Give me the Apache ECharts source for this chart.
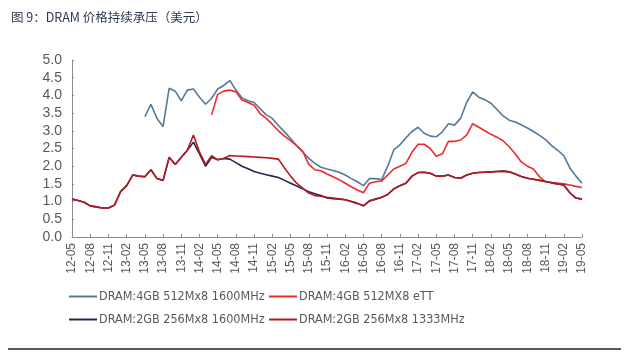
<!DOCTYPE html>
<html>
<head>
<meta charset="utf-8">
<script src="https://cdn.jsdelivr.net/npm/echarts@6/dist/echarts.min.js"></script>
<style>
  html, body { margin: 0; padding: 0; background: #fff; }
  #chart { width: 629px; height: 354px; }
</style>
</head>
<body>
<div id="chart"></div>
<script>
  // 月份 12-05 ... 19-05
  const months = [];
  for (let y = 12; y <= 19; y++) {
    for (let m = 1; m <= 12; m++) {
      if ((y === 12 && m < 5) || (y === 19 && m > 5)) continue;
      months.push(y + "-" + (m < 10 ? "0" + m : m));
    }
  }

  const seriesNames = [
    "DRAM:4GB 512Mx8 1600MHz",
    "DRAM:4GB 512MX8 eTT",
    "DRAM:2GB 256Mx8 1600MHz",
    "DRAM:2GB 256Mx8 1333MHz",
  ];

  const dram4g1600 = [
    null, null, null, null, null, null, null, null, null, null, null, null,
    3.40, 3.75, 3.35, 3.12, 4.20, 4.12, 3.85, 4.15, 4.18, 3.95, 3.75, 3.92,
    4.18, 4.28, 4.42, 4.15, 3.93, 3.85, 3.80, 3.62, 3.45, 3.35, 3.15, 2.97,
    2.78, 2.58, 2.40, 2.22, 2.08, 1.97, 1.92, 1.88, 1.83, 1.75, 1.65, 1.56,
    1.45, 1.65, 1.65, 1.62, 2.00, 2.46, 2.60, 2.80, 2.98, 3.10, 2.93, 2.85,
    2.83, 2.97, 3.20, 3.16, 3.35, 3.80, 4.10, 3.95, 3.88, 3.78, 3.60, 3.42,
    3.30, 3.25, 3.17, 3.08, 2.98, 2.87, 2.75, 2.58, 2.45, 2.30, 1.95, 1.72,
    1.52,
  ];

  const dram4gEtt = [
    null, null, null, null, null, null, null, null, null, null, null, null,
    null, null, null, null, null, null, null, null, null, null, null, 3.45,
    4.03, 4.12, 4.15, 4.10, 3.87, 3.80, 3.72, 3.48, 3.35, 3.18, 3.00, 2.85,
    2.72, 2.58, 2.42, 2.05, 1.90, 1.87, 1.78, 1.70, 1.62, 1.52, 1.42, 1.33,
    1.25, 1.52, 1.56, 1.58, 1.75, 1.92, 2.00, 2.08, 2.40, 2.62, 2.62, 2.50,
    2.28, 2.35, 2.70, 2.70, 2.74, 2.88, 3.20, 3.10, 3.00, 2.90, 2.82, 2.72,
    2.55, 2.35, 2.12, 2.00, 1.92, 1.70, 1.56, 1.54, 1.52, 1.50, 1.47, 1.43,
    1.40,
  ];

  const dram2g1600 = [
    1.07, 1.03, 0.98, 0.88, 0.85, 0.82, 0.82, 0.90, 1.28, 1.45, 1.75, 1.72,
    1.70, 1.90, 1.65, 1.60, 2.25, 2.05, 2.25, 2.45, 2.68, 2.35, 2.00, 2.25,
    2.18, 2.22, 2.20, 2.10, 2.00, 1.93, 1.85, 1.80, 1.76, 1.72, 1.68, 1.60,
    1.52, 1.44, 1.36, 1.28, 1.22, 1.17, 1.10, 1.08, 1.07, 1.05, 1.00, 0.95,
    0.88, 1.02, 1.07, 1.12, 1.20, 1.36, 1.45, 1.52, 1.72, 1.82, 1.83, 1.80,
    1.72, 1.72, 1.75, 1.68, 1.66, 1.75, 1.80, 1.82, 1.83, 1.84, 1.85, 1.86,
    1.84, 1.78, 1.71, 1.66, 1.63, 1.60, 1.57, 1.53, 1.50, 1.47, 1.25, 1.10,
    1.07,
  ];

  const dram2g1333 = [
    1.07, 1.03, 0.98, 0.88, 0.85, 0.82, 0.82, 0.90, 1.28, 1.45, 1.75, 1.72,
    1.70, 1.90, 1.65, 1.60, 2.25, 2.05, 2.25, 2.45, 2.88, 2.40, 2.05, 2.30,
    2.18, 2.22, 2.30, 2.29, 2.28, 2.27, 2.26, 2.25, 2.24, 2.22, 2.20, 1.95,
    1.72, 1.52, 1.38, 1.24, 1.17, 1.15, 1.12, 1.10, 1.08, 1.05, 1.00, 0.95,
    0.88, 1.02, 1.07, 1.12, 1.20, 1.36, 1.45, 1.52, 1.72, 1.82, 1.83, 1.80,
    1.72, 1.72, 1.75, 1.68, 1.66, 1.75, 1.80, 1.82, 1.83, 1.84, 1.85, 1.86,
    1.84, 1.78, 1.71, 1.66, 1.63, 1.60, 1.57, 1.53, 1.50, 1.47, 1.25, 1.10,
    1.07,
  ];

  const colors = ["#56789b", "#ee2b26", "#1d2a48", "#b81820"];
  const textColor = "#595959";
  const legendFont = "'DejaVu Sans Condensed', 'Liberation Sans', sans-serif";

  const legendPos = [
    { left: 69, top: 290 },
    { left: 269, top: 290 },
    { left: 69, top: 313 },
    { left: 269, top: 313 },
  ];

  const chart = echarts.init(document.getElementById("chart"));

  chart.setOption({
    animation: false,
    backgroundColor: "#fff",
    title: {
      text: "图 9：DRAM 价格持续承压（美元）",
      left: 6,
      top: 6,
      textStyle: {
        fontSize: 12.5,
        fontWeight: "normal",
        color: "#2e3a52",
        fontFamily: "'Noto Sans CJK SC', sans-serif",
      },
    },
    legend: seriesNames.map((name, i) => ({
      data: [{ name: name, icon: "rect" }],
      left: legendPos[i].left,
      top: legendPos[i].top,
      padding: 0,
      itemWidth: 28,
      itemHeight: 2,
      itemGap: 2,
      textStyle: {
        fontSize: 12.5,
        color: textColor,
        fontFamily: legendFont,
        padding: [0, 0, 0, -3],
      },
    })),
    grid: {
      left: 72,
      right: 47,
      top: 60,
      bottom: 117,
    },
    xAxis: {
      type: "category",
      boundaryGap: false,
      data: months,
      axisLine: { lineStyle: { color: "#8c8c8c", width: 1 } },
      axisTick: {
        inside: true,
        length: 3,
        interval: 2,
        lineStyle: { color: "#8c8c8c" },
      },
      axisLabel: {
        interval: 2,
        rotate: 90,
        fontSize: 12,
        color: textColor,
        margin: 6,
        fontFamily: "'Liberation Sans', Arial, sans-serif",
      },
      splitLine: { show: false },
    },
    yAxis: {
      type: "value",
      min: 0,
      max: 5,
      interval: 0.5,
      axisLine: { show: true, lineStyle: { color: "#8c8c8c", width: 1 } },
      axisTick: {
        show: true,
        inside: true,
        length: 2,
        lineStyle: { color: "#8c8c8c" },
      },
      axisLabel: {
        fontSize: 14,
        color: textColor,
        margin: 10,
        fontFamily: "'Liberation Sans', Arial, sans-serif",
        formatter: (v) => v.toFixed(1),
      },
      splitLine: { show: false },
    },
    series: [dram4g1600, dram4gEtt, dram2g1600, dram2g1333].map((d, i) => ({
      name: seriesNames[i],
      type: "line",
      data: d,
      symbol: "none",
      connectNulls: false,
      lineStyle: { width: 1.6, color: colors[i] },
      itemStyle: { color: colors[i] },
    })),
    graphic: [
      {
        type: "line",
        shape: { x1: 8, y1: 349, x2: 621, y2: 349 },
        style: { stroke: "#222", lineWidth: 1.5 },
      },
    ],
  });
</script>
</body>
</html>
